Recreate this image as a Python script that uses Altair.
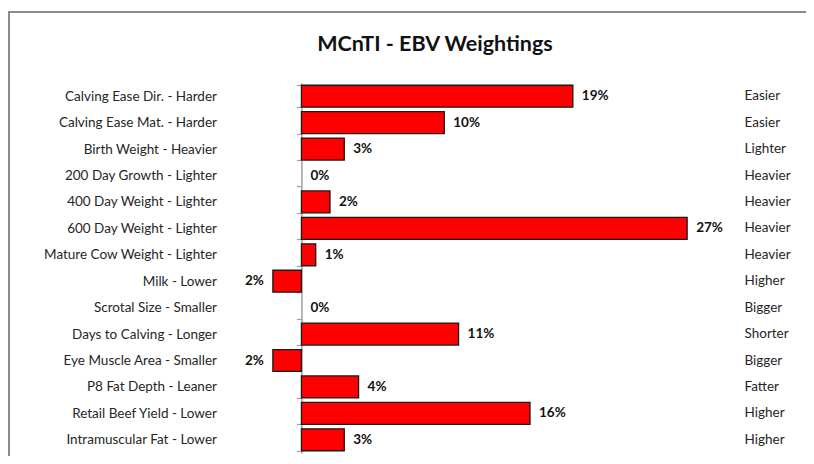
import json
import altair as alt
import pandas as pd

traits = [
    "Calving Ease Dir. - Harder",
    "Calving Ease Mat. - Harder",
    "Birth Weight - Heavier",
    "200 Day Growth - Lighter",
    "400 Day Weight - Lighter",
    "600 Day Weight - Lighter",
    "Mature Cow Weight - Lighter",
    "Milk - Lower",
    "Scrotal Size - Smaller",
    "Days to Calving - Longer",
    "Eye Muscle Area - Smaller",
    "P8 Fat Depth - Leaner",
    "Retail Beef Yield - Lower",
    "Intramuscular Fat - Lower",
]
favourable = [
    "Easier", "Easier", "Lighter", "Heavier", "Heavier", "Heavier", "Heavier",
    "Higher", "Bigger", "Shorter", "Bigger", "Fatter", "Higher", "Higher",
]
weights = [19, 10, 3, 0, 2, 27, 1, -2, 0, 11, -2, 4, 16, 3]

df = pd.DataFrame({"trait": traits, "good": favourable, "weight": weights})

FONT = "Lato"
W, H = 500, 370
XMIN, XMAX = -5, 30
PAD_L, PAD_T = 222, 75
PAD_R = 798 - PAD_L - W
PAD_B = 448 - PAD_T - H
zero_px = W * (0 - XMIN) / (XMAX - XMIN)

right_expr = "%s[indexof(%s, datum.value)]" % (json.dumps(favourable), json.dumps(traits))

xscale = alt.Scale(domain=[XMIN, XMAX], nice=False)
yscale = alt.Scale(domain=traits, paddingInner=0.17, paddingOuter=0.085)

base = alt.Chart(df).transform_calculate(
    lbl="format(abs(datum.weight), 'd') + '%'"
)

bars = base.transform_filter("datum.weight != 0").mark_bar(
    color="#FF0000", stroke="#1a1a1a", strokeWidth=1.3
).encode(
    x=alt.X("weight:Q", scale=xscale, axis=None),
    y=alt.Y(
        "trait:N",
        sort=traits,
        scale=yscale,
        axis=alt.Axis(
            orient="left",
            title=None,
            offset=-zero_px,
            domainColor="#a0a0a0",
            domainWidth=1.5,
            tickColor="#a0a0a0",
            tickWidth=1.2,
            tickSize=5,
            tickBand="extent",
            labelPadding=80,
            labelFont=FONT,
            labelFontSize=13.5,
            labelColor="#262626",
        ),
    ),
)

pos_lbl = base.transform_filter("datum.weight >= 0").mark_text(
    align="left", dx=9, font=FONT, fontSize=13.5, fontWeight="bold", color="#111"
).encode(
    x=alt.X("weight:Q", scale=xscale, axis=None),
    y=alt.Y(
        "trait:N",
        sort=traits,
        scale=yscale,
        axis=alt.Axis(
            orient="right",
            title=None,
            domain=False,
            ticks=False,
            labelPadding=14,
            labelAlign="left",
            labelExpr=right_expr,
            labelFont=FONT,
            labelFontSize=13.5,
            labelColor="#262626",
        ),
    ),
    text="lbl:N",
)

neg_lbl = base.transform_filter("datum.weight < 0").mark_text(
    align="right", dx=-9, font=FONT, fontSize=13.5, fontWeight="bold", color="#111"
).encode(
    x=alt.X("weight:Q", scale=xscale, axis=None),
    y=alt.Y("trait:N", sort=traits, scale=yscale, axis=None),
    text="lbl:N",
)

border = alt.Chart(pd.DataFrame({"a": [0]})).mark_rect(
    fill="transparent", stroke="#8c8c8c", strokeWidth=2
).encode(
    x=alt.value(-PAD_L + 1),
    x2=alt.value(W + PAD_R + 40),
    y=alt.value(4 - PAD_T),
    y2=alt.value(H + PAD_B + 40),
)

chart = alt.layer(border, bars, pos_lbl, neg_lbl).resolve_axis(y="independent").properties(
    width=W,
    height=H,
    padding={"left": PAD_L, "top": PAD_T, "right": PAD_R, "bottom": PAD_B},
    autosize=alt.AutoSizeParams(type="none"),
    title=alt.TitleParams(
        "MCnTI - EBV Weightings",
        font=FONT,
        fontSize=21.5,
        fontWeight="bold",
        color="#111",
        anchor="middle",
        frame="group",
        baseline="alphabetic",
        dx=-45,
        offset=-61,
    ),
).configure_view(stroke=None)

chart.save("out.html", embed_options={"renderer": "svg", "actions": False})
